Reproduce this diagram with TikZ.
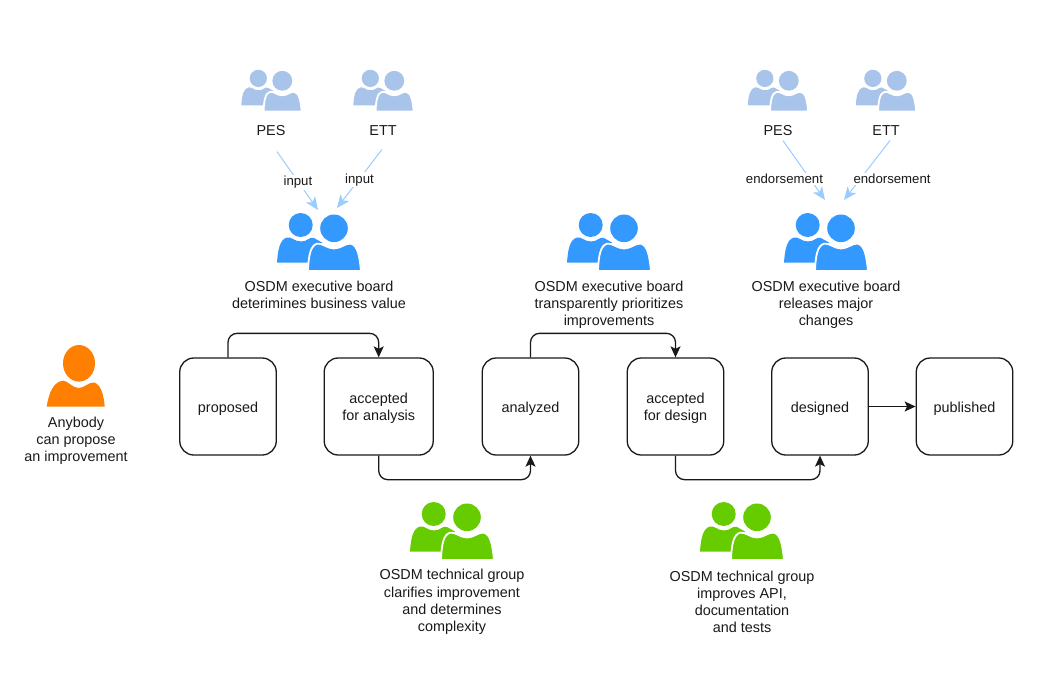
\documentclass[tikz,border=0pt]{standalone}
\usepackage{fontspec}
\usetikzlibrary{arrows.meta}
\setmainfont{Liberation Sans}
\definecolor{boardblue}{HTML}{3399FF}
\definecolor{paleblue}{HTML}{A9C4EB}
\definecolor{arrowblue}{HTML}{99CCFF}
\definecolor{groupgreen}{HTML}{66CC00}
\definecolor{anyorange}{HTML}{FF8000}
\tikzset{
 usersicon/.pic={
  \coordinate (-top) at (0,-28.5);
  \path[pic actions] (-18.3,-17.5) circle (12);
  \path[pic actions] (-42,20) .. controls (-41,6) and (-39,-3) .. (-32,-5) .. controls (-27,-6) and (-25,-1) .. (-18,-1) .. controls (-11,-1) and (-10,-6) .. (-5,-4.5) -- (3,0) -- (-10,20) -- cycle;
  \path[pic actions, draw=white, line width=1.8] (-11,28.5) .. controls (-10.5,13) and (-8.5,3) .. (-2,1.2) .. controls (3,0) and (8,6) .. (15,6) .. controls (22,6) and (27,0) .. (32,1.2) .. controls (38.5,3) and (40.5,13) .. (42,28.5) -- cycle;
  \path[pic actions] (15,-14.2) circle (13.8);
 },
 personicon/.pic={
  \path[pic actions] (3.3,-14.7) ellipse (16 and 18.3);
  \path[pic actions] (-29,28.7) .. controls (-27,15) and (-22,3) .. (-12,2.7) .. controls (-8,3) and (-3,10) .. (3,10) .. controls (9,10) and (14,3) .. (19,4.7) .. controls (25,7) and (28,16) .. (29,28.7) -- cycle;
 }
}
\newcommand{\toproom}{\rule{0pt}{14pt}}
\begin{document}
\begin{tikzpicture}[x=1pt, y=-1pt]
 \tikzstyle{txt}=[align=center, font=\fontsize{14.4}{17.2}\selectfont, text=black!90]
 \tikzstyle{state}=[txt, draw=black!90, line width=1.3, rounded corners=14, minimum width=96.5, minimum height=97, inner sep=0]
 \tikzstyle{flow}=[-{Stealth[length=11, width=10, inset=2.5]}, line width=1.3, draw=black!90, rounded corners=9]
 \tikzstyle{note}=[->, >={Stealth[length=13, width=11, inset=3.5]}, line width=1, draw=arrowblue]
 \tikzstyle{notelabel}=[font=\fontsize{13.2}{16}\selectfont, text=black!90, fill=white, inner sep=1.5, yshift=-1]
 %
 \useasboundingbox (0,0) rectangle (1059,693);
 %
 \pic[fill=paleblue, scale=.72] (pes1) at (271.5, 91) {usersicon};
 \pic[fill=paleblue, scale=.72] (ett1) at (383.5, 91) {usersicon};
 \pic[fill=paleblue, scale=.72] (pes2) at (778, 91) {usersicon};
 \pic[fill=paleblue, scale=.72] (ett2) at (886, 91) {usersicon};
 \node[txt] (pes1label) at (271, 131) {PES};
 \node[txt] (ett1label) at (383, 131) {ETT};
 \node[txt] (pes2label) at (778, 131) {PES};
 \node[txt] (ett2label) at (886, 131) {ETT};
 %
 \pic[fill=boardblue] (board1) at (319, 242.5) {usersicon};
 \pic[fill=boardblue] (board2) at (609, 242.5) {usersicon};
 \pic[fill=boardblue] (board3) at (826, 242.5) {usersicon};
 \node[txt] (board1label) at (319, 294.5) {OSDM executive board\\deterimines business value};
 \node[txt] (board2label) at (609, 304.5) {OSDM executive board\\transparently prioritizes\\improvements};
 \node[txt] (board3label) at (826, 304.5) {OSDM executive board\\releases major\\changes};
 %
 \pic[fill=anyorange] (anybody) at (75.7, 378) {personicon};
 \node[txt] (anybodylabel) at (76, 441) {Anybody\\can propose\\an improvement};
 %
 \node[state] (proposed) at (228, 406.5) {\toproom proposed};
 \node[state, minimum width=109] (accana) at (378.7, 406.5) {\toproom accepted\\for analysis};
 \node[state] (analyzed) at (530.5, 406.5) {\toproom analyzed};
 \node[state] (accdes) at (675.5, 406.5) {\toproom accepted\\for design};
 \node[state] (designed) at (820, 406.5) {\toproom designed};
 \node[state] (published) at (964.5, 406.5) {\toproom published};
 %
 \pic[fill=groupgreen] (group1) at (452, 531.5) {usersicon};
 \pic[fill=groupgreen] (group2) at (742, 531.5) {usersicon};
 \node[txt] (group1label) at (452, 602) {OSDM technical group\\clarifies improvement\\and determines\\complexity};
 \node[txt] (group2label) at (742, 602) {OSDM technical group\\improves API,\\documentation\\and tests};
 %%
 \draw[flow] (proposed.north) -- ++(0,-24) -| (accana.north);
 \draw[flow] (accana.south) -- ++(0,24) -| (analyzed.south);
 \draw[flow] (analyzed.north) -- ++(0,-24) -| (accdes.north);
 \draw[flow] (accdes.south) -- ++(0,24) -| (designed.south);
 \draw[flow, rounded corners=0] (designed) -- (published);
 %
 \draw[note] ([shift={(6,12)}]pes1label.south) -- ([shift={(-1,-4)}]board1-top) node[notelabel, pos=.51] {input};
 \draw[note] ([shift={(-1,10)}]ett1label.south) -- ([shift={(18,-6)}]board1-top) node[notelabel, pos=.5] {input};
 \draw[note] ([shift={(5,1)}]pes2label.south) -- ([shift={(-1,-14)}]board3-top) node[notelabel, pos=.63, xshift=-25] {endorsement};
 \draw[note] ([shift={(4,1)}]ett2label.south) -- ([shift={(18,-14)}]board3-top) node[notelabel, pos=.63, xshift=31] {endorsement};
\end{tikzpicture}
\end{document}
